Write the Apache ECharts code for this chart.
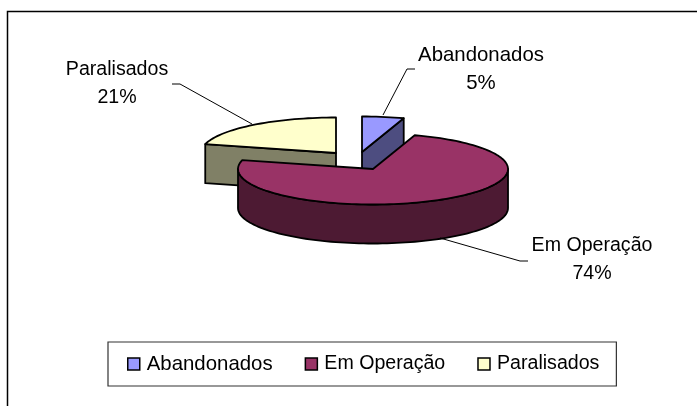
<!DOCTYPE html>
<html><head><meta charset="utf-8">
<style>html,body{margin:0;padding:0;background:#fff}#c{width:697px;height:406px}</style>
<script src="https://cdn.jsdelivr.net/npm/echarts@6/dist/echarts.min.js"></script>
</head><body><div id="c"></div>
<script>
const categories = ['Abandonados', 'Em Operação', 'Paralisados'];
const values = [5, 74, 21];
const topColors = ['#9999FF', '#993366', '#FFFFCC'];
const sideColors = ['#4D4D80', '#4D1A33', '#808066'];

// layout of the tilted pie
const RX = 135, RY = 35.5, DEPTH = 39;
const centers = [[362, 152], [373, 169], [336, 153]];
const labelAt = [[481, 55], [592, 246], [117, 70]];
const textSizes = [20.4, 19.6, 19.6];
const leaders = [
  [[383, 115], [407, 69], [415, 69]],
  [[440, 238], [520, 261], [528, 261]],
  [[252, 124], [180, 84], [172, 84]]
];
const FONT = '"Liberation Sans", Arial, sans-serif';
const total = values.reduce((a, b) => a + b, 0);
const startOf = i => values.slice(0, i).reduce((a, b) => a + b, 0) / total * 360;

function rim(c, deg, dy) {
  const r = deg * Math.PI / 180;
  return [c[0] + RX * Math.sin(r), c[1] - RY * Math.cos(r) + (dy || 0)];
}
function arc(c, a, b, dy) {
  const pts = [], n = Math.max(2, Math.ceil(Math.abs(b - a) / 2));
  for (let k = 0; k <= n; k++) pts.push(rim(c, a + (b - a) * k / n, dy));
  return pts;
}
function renderSlice(i) {
  return function (params, api) {
    const v = api.value(0);
    const a = startOf(i), b = a + v / total * 360, c = centers[i];
    const line = { stroke: '#000', lineWidth: 1.8, lineJoin: 'round' };
    const kids = [];
    const poly = (points, fill) => kids.push({
      type: 'polygon', shape: { points }, style: Object.assign({ fill }, line)
    });
    const down = p => [p[0], p[1] + DEPTH];
    // cut faces that look towards the viewer
    [[a, a - 90], [b, b + 90]].forEach(([ang, normal]) => {
      if (Math.cos(normal * Math.PI / 180) < -1e-6) {
        const p = rim(c, ang);
        poly([c, p, down(p), down(c)], sideColors[i]);
      }
    });
    // outer wall (front half only)
    const w0 = Math.max(a, 90), w1 = Math.min(b, 270);
    if (w1 > w0) {
      const t = arc(c, w0, w1), u = arc(c, w1, w0, DEPTH);
      poly(t.concat(u), sideColors[i]);
    }
    // top surface
    poly([c].concat(arc(c, a, b)), topColors[i]);
    // leader line
    kids.push({
      type: 'polyline', shape: { points: leaders[i] },
      style: { stroke: '#000', lineWidth: 1, fill: null }
    });
    // data label
    kids.push({
      type: 'text', x: labelAt[i][0], y: labelAt[i][1] - 14,
      style: {
        text: categories[i] + '\n' + Math.round(v / total * 100) + '%',
        font: textSizes[i] + 'px ' + FONT, fill: '#000',
        align: 'center', lineHeight: 28, verticalAlign: 'top'
      }
    });
    return { type: 'group', children: kids };
  };
}

const drawOrder = [2, 0, 1];
const chart = echarts.init(document.getElementById('c'), null, { renderer: 'canvas' });
chart.setOption({
  animation: false,
  backgroundColor: '#fff',
  graphic: [{
    type: 'rect', z: -1, silent: true,
    shape: { x: 7.5, y: 11.5, width: 720, height: 420 },
    style: { fill: '#fff', stroke: '#000', lineWidth: 1.5 }
  }],
  legend: {
    left: 108, top: 342, orient: 'horizontal',
    padding: [12, 17, 12, 19], itemGap: 32,
    itemWidth: 12, itemHeight: 12, selectedMode: false,
    backgroundColor: '#fff', borderColor: '#333', borderWidth: 1.2,
    textStyle: { fontFamily: FONT, color: '#000', padding: [0, 0, 0, 2] },
    data: categories.map((name, i) => ({
      name, icon: 'rect',
      textStyle: { fontFamily: FONT, fontSize: textSizes[i], color: '#000', padding: [0, 0, 0, 2] },
      itemStyle: { color: topColors[i], borderColor: '#000', borderWidth: 1.5 }
    }))
  },
  series: drawOrder.map(i => ({
    type: 'custom',
    name: categories[i],
    coordinateSystem: 'none',
    silent: true,
    color: topColors[i],
    itemStyle: { color: topColors[i] },
    renderItem: renderSlice(i),
    data: [values[i]]
  }))
});
</script></body></html>
